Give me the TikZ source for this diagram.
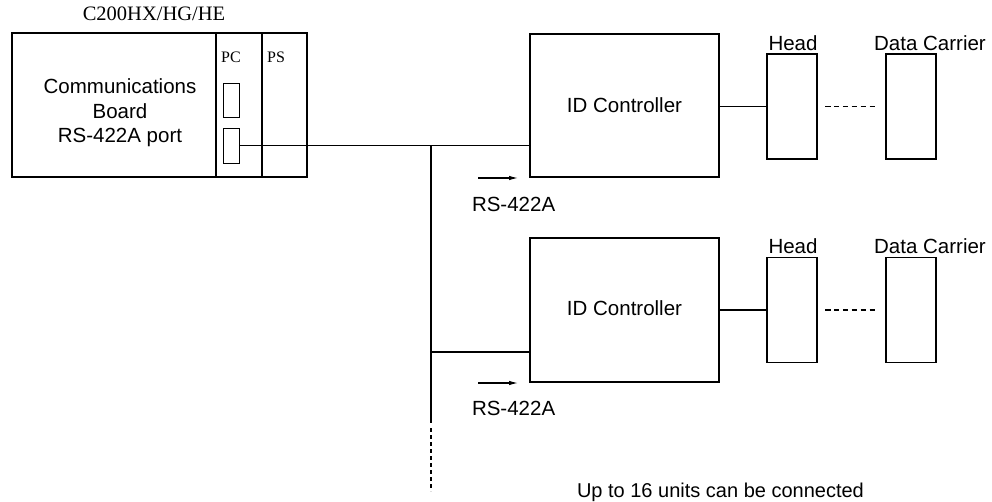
\documentclass[tikz,border=0pt]{standalone}
\usepackage{fontspec}
\setmainfont{Liberation Sans}
\newfontfamily\seriffam{Liberation Serif}
\usetikzlibrary{arrows.meta}
\begin{document}
\begin{tikzpicture}[x=1pt,y=-1pt,
  every node/.style={inner sep=0pt,outer sep=0pt},
  box/.style={draw,line width=1.1pt,rectangle},
  wire/.style={line width=1.1pt},
  lbl/.style={font=\fontsize{20.5}{24.5}\selectfont},
  slbl/.style={font=\seriffam\fontsize{20.5}{24.5}\selectfont},
  tinylbl/.style={font=\seriffam\fontsize{16}{18}\selectfont},
  sig/.style={line width=1.1pt,-{Latex[length=9pt,width=4.5pt]}}
]
\useasboundingbox (0,0) rectangle (992,502);
% PLC
\node[box,minimum width=295pt,minimum height=144pt] (plc) at (159.5,105) {};
\draw[wire] (216,33) coordinate (d1t) -- (216,177) coordinate (d1b);
\draw[wire] (262,33) coordinate (d2t) -- (262,177) coordinate (d2b);
\node[box,line width=0.8pt,minimum width=16pt,minimum height=34pt] (port1) at (231,100) {};
\node[box,line width=0.8pt,minimum width=16pt,minimum height=35pt] (port2) at (231,145.5) {};
\node[slbl,anchor=base] (plcname) at (154,21) {C200HX/HG/HE};
\node[tinylbl,anchor=base] (pc) at (231,63) {PC};
\node[tinylbl,anchor=base] (ps) at (276,63) {PS};
\node[lbl,align=center,anchor=base] (comm) at (120,143) {Communications\\Board\\RS-422A port};
% Controllers
\node[box,minimum width=189pt,minimum height=143pt] (ctrl1) at (624.5,105.5) {};
\node[lbl,anchor=base] (ctrl1t) at (624.5,113) {ID Controller};
\node[box,minimum width=189pt,minimum height=144pt] (ctrl2) at (624.5,310) {};
\node[lbl,anchor=base] (ctrl2t) at (624.5,316) {ID Controller};
% Heads & carriers
\node[box,minimum width=50pt,minimum height=105pt] (head1) at (792,106.5) {};
\node[box,minimum width=50pt,minimum height=105pt] (dc1) at (911,106.5) {};
\node[box,minimum width=50pt,minimum height=105pt] (head2) at (792,310) {};
\node[box,minimum width=50pt,minimum height=105pt] (dc2) at (911,310) {};
\node[lbl,anchor=base] (head1t) at (793,51) {Head};
\node[lbl,anchor=base] (dc1t) at (930,51) {Data Carrier};
\node[lbl,anchor=base] (head2t) at (793,254) {Head};
\node[lbl,anchor=base] (dc2t) at (930,254) {Data Carrier};
\draw[wire] (ctrl1.east |- head1.west) -- (head1.west);
\draw[wire] (ctrl2.east |- head2.west) -- (head2.west);
\draw[wire,dash pattern=on 5.5pt off 3.4pt,shorten <=8pt,shorten >=8pt] (head1.east) -- (dc1.west);
\draw[wire,dash pattern=on 5.5pt off 3.4pt,shorten <=8pt,shorten >=8pt] (head2.east) -- (dc2.west);
% Bus
\draw[wire] (port2.east) -- (port2.east -| ctrl1.west);
\coordinate (bustop) at (431,146);
\coordinate (busmid) at (431,423);
\coordinate (busend) at (431,491);
\coordinate (tap2) at (431,352);
\draw[wire] (bustop) -- (busmid);
\draw[wire,dash pattern=on 4pt off 3pt] (busmid) ++(0,5) -- (busend);
\draw[wire] (tap2) -- (tap2 -| ctrl2.west);
% Arrows
\coordinate (a1s) at (478,178); \coordinate (a1e) at (518,178);
\coordinate (a2s) at (478,383); \coordinate (a2e) at (518,383);
\draw[sig] (a1s) -- (a1e);
\draw[sig] (a2s) -- (a2e);
\node[lbl,anchor=base west] (rs1) at (472,212) {RS-422A};
\node[lbl,anchor=base west] (rs2) at (472,415) {RS-422A};
\node[lbl,anchor=base west,font=\fontsize{20}{24}\selectfont] (note) at (577,497) {Up to 16 units can be connected};
\end{tikzpicture}
\end{document}
